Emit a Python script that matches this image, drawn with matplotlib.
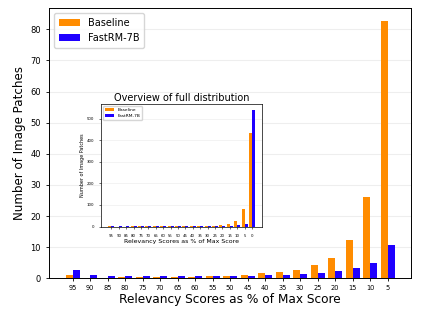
import numpy as np
import matplotlib
matplotlib.use("Agg")
import matplotlib.pyplot as plt

# main chart: bins 95..5 (% of max score)
bins = [95, 90, 85, 80, 75, 70, 65, 60, 55, 50, 45, 40, 35, 30, 25, 20, 15, 10, 5]
baseline = [1.2, 0.2, 0.2, 0.3, 0.4, 0.5, 0.6, 0.5, 0.8, 0.85, 1.06, 1.6, 2.0, 2.8, 4.2, 6.7, 12.3, 26.2, 82.6]
fastrm = [2.8, 1.06, 0.8, 0.8, 0.8, 0.8, 0.8, 0.8, 0.8, 0.9, 0.9, 1.1, 1.06, 1.4, 1.8, 2.3, 3.3, 5.1, 10.7]

# inset: full distribution including the 0 bin
bins_full = bins + [0]
baseline_full = baseline + [434]
fastrm_full = fastrm + [541]

c_base = "#ff8c00"
c_fast = "#1f00ff"
w = 0.4

fig = plt.figure(figsize=(4.23, 3.2), dpi=100)
ax = fig.add_axes([0.116, 0.13, 0.856, 0.844])

x = np.arange(len(bins))
ax.bar(x - w/2, baseline, w, color=c_base, label="Baseline")
ax.bar(x + w/2, fastrm, w, color=c_fast, label="FastRM-7B")
ax.set_xticks(x)
ax.set_xticklabels([str(b) for b in bins], fontsize=4.8)
ax.tick_params(axis="y", labelsize=6, length=2.5, width=0.6)
ax.tick_params(axis="x", length=2.5, width=0.6, pad=2)
ax.set_xlabel("Relevancy Scores as % of Max Score", fontsize=8.7, labelpad=2)
ax.set_ylabel("Number of Image Patches", fontsize=8.6, labelpad=3)
ax.yaxis.grid(True, color="#eeeeee", linewidth=0.8)
ax.set_axisbelow(True)
for s in ax.spines.values():
    s.set_linewidth(0.7)
ax.legend(loc="upper left", fontsize=7, borderpad=0.5, handlelength=2.2)

# inset
ins = fig.add_axes([0.239, 0.292, 0.381, 0.383])
xf = np.arange(len(bins_full))
ins.bar(xf - w/2, baseline_full, w, color=c_base, label="Baseline")
ins.bar(xf + w/2, fastrm_full, w, color=c_fast, label="FastRM-7B")
ins.set_xticks(xf)
ins.set_xticklabels([str(b) for b in bins_full], fontsize=2.8)
ins.tick_params(axis="y", labelsize=2.8, length=1.5, width=0.4)
ins.tick_params(axis="x", length=1.5, width=0.4)
ins.set_xlabel("Relevancy Scores as % of Max Score", fontsize=4.5, labelpad=1)
ins.set_ylabel("Number of Image Patches", fontsize=3.5, labelpad=1)
ins.yaxis.grid(True, color="#eeeeee", linewidth=0.5)
ins.set_axisbelow(True)
for s in ins.spines.values():
    s.set_linewidth(0.5)
ins.legend(loc="upper left", fontsize=3.2, handlelength=2, borderpad=0.4)
ins.set_title("Overview of full distribution", fontsize=7, pad=2.5)

fig.savefig("out.png", dpi=100)
